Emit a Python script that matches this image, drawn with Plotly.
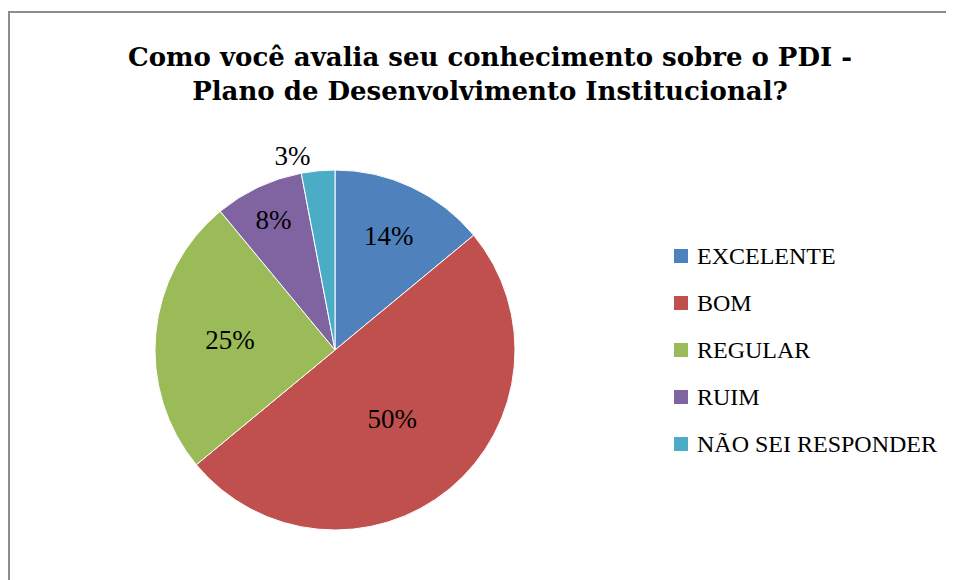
import plotly.graph_objects as go

labels = ["EXCELENTE", "BOM", "REGULAR", "RUIM", "NÃO SEI RESPONDER"]
values = [14, 50, 25, 8, 3]
colors = ["#4F81BD", "#C0504D", "#9BBB59", "#8064A2", "#4BACC6"]
text_pos = ["inside", "inside", "inside", "inside", "outside"]
title = "Como você avalia seu conhecimento sobre o PDI -<br>Plano de Desenvolvimento Institucional?"

W, H = 954, 580
SERIF = "Liberation Serif, DejaVu Serif, serif"
TITLE_FONT = "DejaVu Serif, Liberation Serif, serif"

def px(x):
    return x / W

def py(y):
    return 1 - y / H

cx, cy, r = 327, 342, 180

fig = go.Figure(go.Pie(
    labels=labels,
    values=values,
    marker=dict(colors=colors, line=dict(color="white", width=1)),
    sort=False,
    direction="clockwise",
    rotation=0,
    textinfo="percent",
    textposition=text_pos,
    insidetextorientation="horizontal",
    textfont=dict(family=SERIF, size=27, color="black"),
    domain=dict(x=[px(cx - r), px(cx + r)], y=[py(cy + r), py(cy - r)]),
    showlegend=False,
    hoverinfo="label+percent",
))

shapes = [dict(type="rect", xref="paper", yref="paper",
               x0=px(1), x1=px(W + 20), y0=py(H + 20), y1=py(4),
               line=dict(color="#8C8C8C", width=2), fillcolor="rgba(0,0,0,0)", layer="above")]
annotations = []
for i, (lab, col) in enumerate(zip(labels, colors)):
    yc = 248 + 47 * i
    shapes.append(dict(type="rect", xref="paper", yref="paper",
                       x0=px(666), x1=px(680), y0=py(yc + 7), y1=py(yc - 7),
                       line=dict(width=0), fillcolor=col))
    annotations.append(dict(xref="paper", yref="paper", x=px(687), y=py(yc),
                            xanchor="left", yanchor="middle", showarrow=False,
                            text=lab, font=dict(family=SERIF, size=24, color="black")))

fig.update_layout(
    width=W, height=H,
    margin=dict(l=0, r=0, t=0, b=0),
    paper_bgcolor="white",
    plot_bgcolor="white",
    title=dict(text="<b>" + title + "</b>", x=px(482), xanchor="center",
               y=py(58), yanchor="middle",
               font=dict(family=TITLE_FONT, size=26, color="black")),
    shapes=shapes,
    annotations=annotations,
)

fig.write_html("out.html")
